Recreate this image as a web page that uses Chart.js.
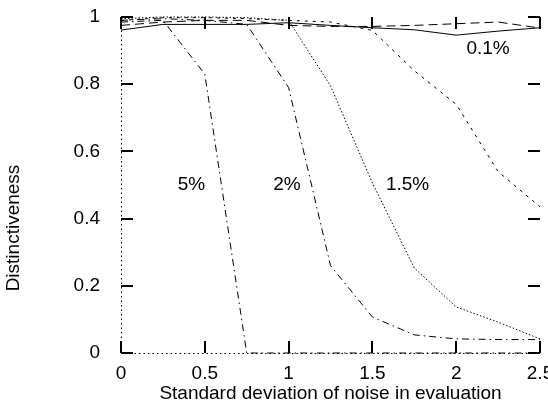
<!DOCTYPE html>
<html>
<head>
<meta charset="utf-8">
<script src="https://cdn.jsdelivr.net/npm/chart.js@4.4.1/dist/chart.umd.min.js"></script>
<style>
body { margin: 0; background: #fff; }
</style>
</head>
<body>
<canvas id="chart" width="548" height="407"></canvas>
<script>
// noise std dev on x, distinctiveness on y
var noise_levels = [0, 0.25, 0.5, 0.75, 1, 1.25, 1.5, 1.75, 2, 2.25, 2.5];

var rate_01 = [0.961, 0.978, 0.978, 0.978, 0.983, 0.975, 0.968, 0.962, 0.946, 0.958, 0.968];
var rate_05 = [0.975, 0.985, 0.99, 0.99, 0.975, 0.972, 0.972, 0.975, 0.98, 0.985, 0.967];
var rate_1  = [0.99, 0.998, 0.998, 0.995, 0.99, 0.985, 0.96, 0.84, 0.74, 0.54, 0.435];
var rate_15 = [0.995, 1.0, 1.0, 0.998, 0.99, 0.795, 0.506, 0.253, 0.137, 0.092, 0.042];
var rate_2  = [0.99, 0.995, 0.99, 0.978, 0.79, 0.26, 0.107, 0.054, 0.042, 0.04, 0.04];
var rate_5  = [0.985, 0.99, 0.83, 0, 0, 0, 0, 0, 0, 0, 0];

var curve_labels = ["0.1%", "5%", "2%", "1.5%"];
var curve_label_x = [2.19, 0.42, 0.99, 1.71];
var curve_label_y = [0.905, 0.5, 0.5, 0.5];

var font_family = "'Liberation Sans', Arial, Helvetica, sans-serif";

function makeSeries(values, dash) {
    var pts = [];
    for (var i = 0; i < noise_levels.length; i++) {
        pts.push({x: noise_levels[i], y: values[i]});
    }
    return {
        data: pts,
        borderColor: "#000",
        borderWidth: 1,
        borderDash: dash,
        pointRadius: 0,
        tension: 0,
        fill: false,
        clip: false
    };
}

// gnuplot prints 1 not 1.0
function plainNumber(value) {
    return String(+value.toFixed(2));
}

// gnuplot style frame: dotted zero axes, inward ticks on all four sides, text labels
var gnuplotFrame = {
    id: 'gnuplotFrame',
    beforeDatasetsDraw: function(chart) {
        var ctx = chart.ctx, xs = chart.scales.x, ys = chart.scales.y;
        ctx.save();
        ctx.strokeStyle = "#000";
        ctx.lineWidth = 1;
        ctx.setLineDash([1.5, 3]);
        ctx.beginPath();
        ctx.moveTo(xs.getPixelForValue(0) + 0.5, ys.getPixelForValue(1));
        ctx.lineTo(xs.getPixelForValue(0) + 0.5, ys.getPixelForValue(0));
        ctx.moveTo(xs.getPixelForValue(0), ys.getPixelForValue(0) + 0.5);
        ctx.lineTo(xs.getPixelForValue(2.5), ys.getPixelForValue(0) + 0.5);
        ctx.stroke();
        ctx.restore();
    },
    afterDraw: function(chart) {
        var ctx = chart.ctx, xs = chart.scales.x, ys = chart.scales.y;
        var area = chart.chartArea;
        var len = 12;
        ctx.save();
        ctx.strokeStyle = "#000";
        ctx.lineWidth = 2;
        ctx.setLineDash([]);
        ctx.beginPath();
        xs.ticks.forEach(function(t) {
            var px = Math.round(xs.getPixelForValue(t.value));
            ctx.moveTo(px, area.bottom); ctx.lineTo(px, area.bottom - len);
            ctx.moveTo(px, area.top); ctx.lineTo(px, area.top + len);
        });
        ys.ticks.forEach(function(t) {
            var py = Math.round(ys.getPixelForValue(t.value));
            ctx.moveTo(area.left, py); ctx.lineTo(area.left + len, py);
            ctx.moveTo(area.right, py); ctx.lineTo(area.right - len, py);
        });
        ctx.stroke();

        ctx.fillStyle = "#000";
        ctx.font = "19px " + font_family;
        ctx.textAlign = "center";
        ctx.textBaseline = "middle";
        for (var i = 0; i < curve_labels.length; i++) {
            ctx.fillText(curve_labels[i], xs.getPixelForValue(curve_label_x[i]), ys.getPixelForValue(curve_label_y[i]));
        }

        // y label sits lower than the axis middle in the original
        ctx.translate(14, 228);
        ctx.rotate(-Math.PI / 2);
        ctx.fillText("Distinctiveness", 0, 0);
        ctx.restore();
    }
};

var ctx = document.getElementById("chart").getContext("2d");
var chart = new Chart(ctx, {
    type: 'line',
    data: {
        datasets: [
            makeSeries(rate_01, []),
            makeSeries(rate_05, [9, 5]),
            makeSeries(rate_1, [3, 5]),
            makeSeries(rate_15, [1.5, 2]),
            makeSeries(rate_2, [7, 4, 1.5, 4]),
            makeSeries(rate_5, [7, 4, 1.5, 4])
        ]
    },
    options: {
        responsive: false,
        animation: false,
        layout: { padding: { top: 17, right: 8, left: 0, bottom: 0 } },
        plugins: { legend: { display: false }, tooltip: { enabled: false } },
        scales: {
            x: {
                type: 'linear',
                min: 0, max: 2.5,
                border: { display: false },
                grid: { display: false },
                ticks: { stepSize: 0.5, padding: 1, color: "#000", font: { family: font_family, size: 19 },
                         maxRotation: 0, callback: plainNumber },
                title: { display: true, text: "Standard deviation of noise in evaluation", color: "#000",
                         font: { family: font_family, size: 19 }, padding: { top: 0, bottom: 2 } },
                afterFit: function(scale) {
                    scale.height = 54;
                    scale.paddingLeft = 0;
                    scale.paddingRight = 0;
                }
            },
            y: {
                min: 0, max: 1,
                border: { display: false },
                grid: { display: false },
                ticks: { stepSize: 0.2, padding: 13, color: "#000", font: { family: font_family, size: 19 },
                         callback: plainNumber },
                afterFit: function(scale) {
                    scale.width = 121;
                    scale.paddingTop = 0;
                    scale.paddingBottom = 0;
                }
            }
        }
    },
    plugins: [gnuplotFrame]
});
</script>
</body>
</html>
